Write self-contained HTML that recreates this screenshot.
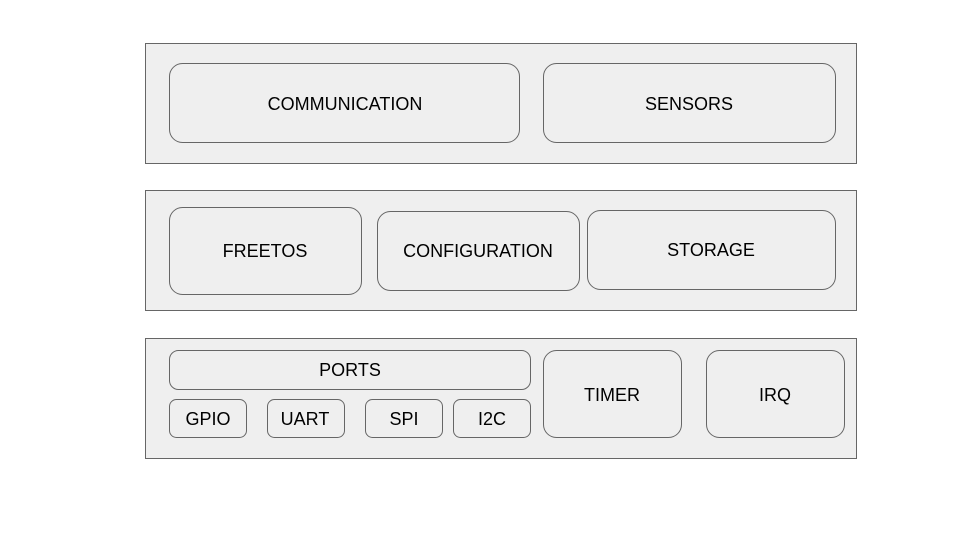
<!DOCTYPE html>
<html><head><style>body{margin:0;background:#fff}svg{display:block}</style></head><body>
<svg width="960" height="540" xmlns="http://www.w3.org/2000/svg" font-family="Liberation Sans, sans-serif" font-size="18" fill="#000">
<g fill="#efefef" stroke="#666" stroke-width="1">
<rect x="145.5" y="43.5" width="711" height="120"/>
<rect x="145.5" y="190.5" width="711" height="120"/>
<rect x="145.5" y="338.5" width="711" height="120"/>
<rect x="169.5" y="63.5" width="350" height="79" rx="13"/>
<rect x="543.5" y="63.5" width="292" height="79" rx="13"/>
<rect x="169.5" y="207.5" width="192" height="87" rx="13"/>
<rect x="377.5" y="211.5" width="202" height="79" rx="13"/>
<rect x="587.5" y="210.5" width="248" height="79" rx="13"/>
<rect x="169.5" y="350.5" width="361" height="39" rx="9"/>
<rect x="169.5" y="399.5" width="77" height="38" rx="7"/>
<rect x="267.5" y="399.5" width="77" height="38" rx="7"/>
<rect x="365.5" y="399.5" width="77" height="38" rx="7"/>
<rect x="453.5" y="399.5" width="77" height="38" rx="7"/>
<rect x="543.5" y="350.5" width="138" height="87" rx="13"/>
<rect x="706.5" y="350.5" width="138" height="87" rx="13"/>
</g>
<g text-anchor="middle" stroke="none" fill="#000">
<text x="345" y="110">COMMUNICATION</text>
<text x="689" y="110">SENSORS</text>
<text x="265" y="257">FREETOS</text>
<text x="478" y="257">CONFIGURATION</text>
<text x="711" y="256">STORAGE</text>
<text x="350" y="376">PORTS</text>
<text x="208" y="425">GPIO</text>
<text x="305" y="425">UART</text>
<text x="404" y="425">SPI</text>
<text x="492" y="425">I2C</text>
<text x="612" y="401">TIMER</text>
<text x="775" y="401">IRQ</text>
</g>
</svg>
</body></html>
